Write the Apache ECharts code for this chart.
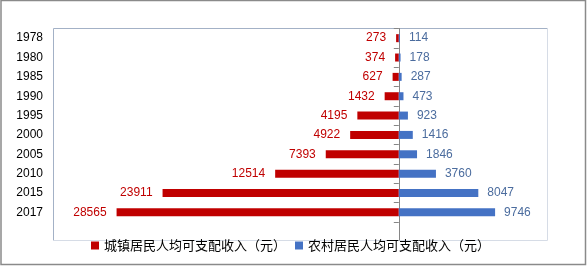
<!DOCTYPE html>
<html>
<head>
<meta charset="utf-8">
<script src="https://cdn.jsdelivr.net/npm/echarts@6/dist/echarts.min.js"></script>
<style>html,body{margin:0;padding:0;background:#fff;}#c{width:587px;height:266px;}</style>
</head>
<body>
<div id="c"></div>
<script>
var years = ['1978','1980','1985','1990','1995','2000','2005','2010','2015','2017'];
var urbanName = '城镇居民人均可支配收入（元）';
var ruralName = '农村居民人均可支配收入（元）';
var urban = [273, 374, 627, 1432, 4195, 4922, 7393, 12514, 23911, 28565];
var rural = [114, 178, 287, 473, 923, 1416, 1846, 3760, 8047, 9746];

var chart = echarts.init(document.getElementById('c'), null, {renderer: 'canvas'});
var numFont = 'Liberation Sans, Arial, sans-serif';
var cjkFont = '"Noto Sans CJK SC", sans-serif';
var gl = 53, gt = 28.5, gw = 494, gh = 193.5;
var xMin = -35000, xMax = 15000;
var zeroX = gl + gw * (0 - xMin) / (xMax - xMin);

chart.setOption({
  animation: false,
  backgroundColor: '#fff',
  grid: {left: gl, top: gt, width: gw, height: gh, containLabel: false},
  xAxis: {
    type: 'value', min: xMin, max: xMax, interval: 5000,
    show: false
  },
  yAxis: [{
    type: 'category', data: years, inverse: true,
    axisLine: {show: true, onZero: true, lineStyle: {color: '#868686', width: 1}},
    axisTick: {show: true, length: 5, lineStyle: {color: '#868686'}},
    axisLabel: {show: false},
    splitLine: {show: false}
  }, {
    type: 'category', data: years, inverse: true, position: 'left',
    axisLine: {show: false, onZero: false},
    axisTick: {show: false},
    axisLabel: {show: true, margin: 10, color: '#000', fontSize: 12, fontFamily: numFont},
    splitLine: {show: false}
  }],
  legend: {
    data: [urbanName, ruralName],
    top: 239, left: 91,
    itemWidth: 8, itemHeight: 8, itemGap: 9,
    icon: 'rect',
    textStyle: {fontSize: 13, color: '#000', fontFamily: cjkFont},
    padding: 0
  },
  series: [{
    name: urbanName, type: 'bar', yAxisIndex: 0,
    data: urban.map(function (v) { return -v; }),
    barWidth: 8, barGap: '-100%',
    itemStyle: {color: '#C00000'},
    label: {show: true, position: 'left', distance: 10, color: '#C00000', fontSize: 12, fontFamily: numFont,
      formatter: function (p) { return String(-p.value); }}
  }, {
    name: ruralName, type: 'bar', yAxisIndex: 0,
    data: rural,
    barWidth: 8, barGap: '-100%',
    itemStyle: {color: '#4472C4'},
    label: {show: true, position: 'right', distance: 9, color: '#4B6C9E', fontSize: 12, fontFamily: numFont}
  }],
  graphic: [
    {type: 'rect', shape: {x: 1, y: 0.5, width: 584.5, height: 264}, style: {fill: 'none', stroke: '#8a8a8a', lineWidth: 1.5}, silent: true, z: 100},
    {type: 'line', shape: {x1: 53.5, y1: 28.5, x2: 547.5, y2: 28.5}, style: {stroke: '#A3B1C6', lineWidth: 1}, silent: true},
    {type: 'line', shape: {x1: 53.5, y1: 28.5, x2: 53.5, y2: 240.5}, style: {stroke: '#A3B1C6', lineWidth: 1}, silent: true},
    {type: 'line', shape: {x1: 547.5, y1: 28.5, x2: 547.5, y2: 240.5}, style: {stroke: '#D6DCE6', lineWidth: 1}, silent: true},
    {type: 'line', shape: {x1: 53.5, y1: 240.5, x2: 547.5, y2: 240.5}, style: {stroke: '#D6DCE6', lineWidth: 1}, silent: true},
    {type: 'line', shape: {x1: Math.round(zeroX) + 0.5, y1: gt + gh, x2: Math.round(zeroX) + 0.5, y2: 240.5}, style: {stroke: '#868686', lineWidth: 1}, silent: true}
  ]
});
</script>
</body>
</html>
